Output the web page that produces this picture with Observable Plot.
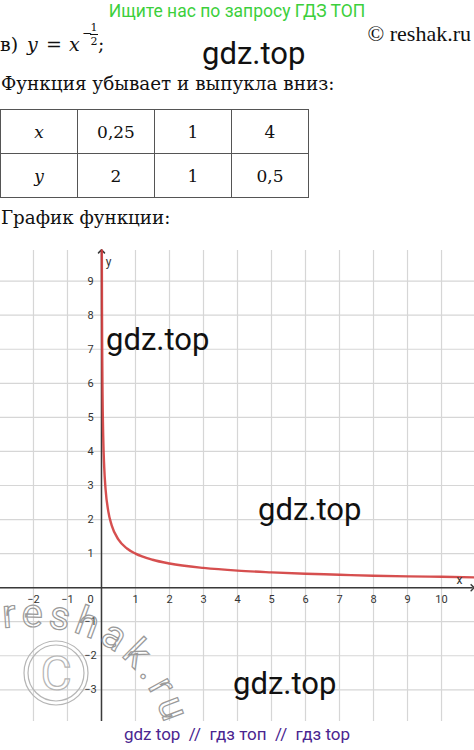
<!DOCTYPE html>
<html><head><meta charset="utf-8">
<script src="https://cdn.jsdelivr.net/npm/d3@7"></script>
<script src="https://cdn.jsdelivr.net/npm/@observablehq/plot@0.6"></script>
<style>
body{margin:0;background:#fff;}
#page{position:relative;width:474px;height:750px;overflow:hidden;background:#fff;}
.abs{position:absolute;white-space:nowrap;}
.serif{font-family:"DejaVu Serif",serif;color:#111;}
.sans{font-family:Roboto,"Noto Sans",sans-serif;}
table{border-collapse:collapse;}
td{border:1px solid #555;width:76px;height:43px;text-align:center;font-family:"DejaVu Serif",serif;font-size:17px;padding:0;color:#111;}
.wm{font-family:Roboto,sans-serif;font-size:31px;color:#111;line-height:31px;}
.m{font-size:19px;line-height:24px;top:32px;}
</style></head>
<body><div id="page">
<div class="abs sans" style="left:0;width:474px;text-align:center;top:1px;font-size:17.5px;color:#3ccf3c;">Ищите нас по запросу ГДЗ ТОП</div>
<div class="abs" style="right:3px;top:21px;font-size:22px;font-family:'Liberation Serif',serif;color:#111;">© reshak.ru</div>
<div class="abs serif m" style="left:0;">в)</div>
<div class="abs serif m" style="left:27px;"><i>y</i></div>
<div class="abs serif m" style="left:46px;">=</div>
<div class="abs serif m" style="left:69px;"><i>x</i></div>
<div class="abs serif" style="left:82px;top:27px;font-size:12px;line-height:12px;">−</div>
<div class="abs serif" style="left:90px;top:22px;font-size:11px;line-height:11px;text-align:center;width:8px;">1</div>
<div class="abs" style="left:90px;top:34px;width:8px;border-top:1px solid #111;"></div>
<div class="abs serif" style="left:90px;top:36px;font-size:11px;line-height:11px;text-align:center;width:8px;">2</div>
<div class="abs serif m" style="left:98px;">;</div>
<div class="abs wm" style="left:202px;top:38px;">gdz.top</div>
<div class="abs serif" style="left:1px;top:72px;font-size:18.4px;line-height:24px;">Функция убывает и выпукла вниз:</div>
<table class="abs" style="left:0;top:109px;">
<tr><td><i>x</i></td><td id="c1"></td><td id="c2"></td><td id="c3"></td></tr>
<tr><td><i>y</i></td><td id="d1"></td><td id="d2"></td><td id="d3"></td></tr>
</table>
<div class="abs serif" style="left:1px;top:206px;font-size:18.3px;line-height:24px;">График функции:</div>
<div id="chart" class="abs" style="left:0;top:250px;"></div>
<div class="abs wm" style="left:106px;top:324px;">gdz.top</div>
<div class="abs wm" style="left:258px;top:494px;">gdz.top</div>
<div class="abs wm" style="left:233px;top:668px;">gdz.top</div>
<svg class="abs" style="left:0;top:580px;" width="220" height="150">
  <path id="arc" d="M 3,48 C 80,40 142,68 166,148" fill="none"/>
  <text font-family="Roboto, sans-serif" font-size="40" letter-spacing="5" fill="none" stroke="#9a9a9a" stroke-width="1.2"><textPath href="#arc">reshak.ru</textPath></text>
  <circle cx="56" cy="93" r="32" fill="none" stroke="#b5b5b5" stroke-width="1.2"/>
  <circle cx="56" cy="93" r="28" fill="none" stroke="#b5b5b5" stroke-width="1.2"/>
  <text x="56" y="110" text-anchor="middle" font-family="Roboto, sans-serif" font-size="48" fill="none" stroke="#b5b5b5" stroke-width="1.2">C</text>
</svg>
<div class="abs sans" style="left:0;width:474px;text-align:center;top:724px;font-size:17px;color:#4a2590;">gdz top &nbsp;// &nbsp;гдз топ &nbsp;// &nbsp;гдз top</div>
</div>
<script>
// table values
const tableX = ["0,25", "1", "4"];
const tableY = ["2", "1", "0,5"];
// grid and tick values
const gridX = [-2, -1, 0, 1, 2, 3, 4, 5, 6, 7, 8, 9, 10];
const gridY = [-3, -2, -1, 0, 1, 2, 3, 4, 5, 6, 7, 8, 9];
const xTicks = [-2, -1, 1, 2, 3, 4, 5, 6, 7, 8, 9, 10];
const yTicks = [-3, -2, -1, 1, 2, 3, 4, 5, 6, 7, 8, 9];
// curve points
const curveX = [0.0102, 0.015, 0.02, 0.03, 0.05, 0.08, 0.12, 0.2, 0.3, 0.5, 0.75, 1, 1.5, 2, 3, 4, 5, 6, 7, 8, 9, 10, 11];
const curveY = [9.9, 8.16, 7.07, 5.77, 4.47, 3.54, 2.89, 2.24, 1.83, 1.41, 1.15, 1, 0.82, 0.71, 0.58, 0.5, 0.45, 0.41, 0.38, 0.35, 0.33, 0.32, 0.3];

tableX.forEach((v, i) => document.getElementById("c" + (i + 1)).textContent = v);
tableY.forEach((v, i) => document.getElementById("d" + (i + 1)).textContent = v);

const curve = curveX.map((x, i) => ({x, y: curveY[i]}));
const fmt = d => (d < 0 ? "\u2212" + Math.abs(d) : String(d));
const xDom = [-2.97, 10.97], yDom = [-3.93, 9.9];

const chart = Plot.plot({
  width: 474, height: 471, margin: 0,
  x: {domain: xDom, axis: null},
  y: {domain: yDom, axis: null},
  style: {background: "transparent", overflow: "visible"},
  marks: [
    Plot.ruleX(gridX, {stroke: "#d6d6d6", strokeWidth: 1.2}),
    Plot.ruleY(gridY, {stroke: "#d6d6d6", strokeWidth: 1.2}),
    Plot.ruleY([0], {x1: xDom[0], x2: 10.93, stroke: "#3a3a3a", strokeWidth: 1.5, markerEnd: "arrow"}),
    Plot.ruleX([0], {y1: yDom[0], y2: 9.86, stroke: "#3a3a3a", strokeWidth: 1.5, markerEnd: "arrow"}),
    Plot.line(curve, {x: "x", y: "y", stroke: "#d23c3c", strokeWidth: 2.4, curve: "monotone-x", strokeOpacity: 0.9}),
    Plot.text(xTicks, {x: d => d, y: 0, text: fmt, dy: 12, fontSize: 11, fill: "#333", fontFamily: "Roboto, sans-serif"}),
    Plot.text(yTicks, {x: 0, y: d => d, text: fmt, dx: -11, fontSize: 11, fill: "#333", fontFamily: "Roboto, sans-serif"}),
    Plot.text([0], {x: 0, y: 0, text: ["0"], dx: -11, dy: 12, fontSize: 11, fill: "#333", fontFamily: "Roboto, sans-serif"}),
    Plot.text([0], {x: 10.53, y: 0, text: ["x"], dy: -8, fontSize: 12, fill: "#333", fontFamily: "Roboto, sans-serif"}),
    Plot.text([0], {x: 0, y: 9.56, text: ["y"], dx: 7, fontSize: 12, fill: "#333", fontFamily: "Roboto, sans-serif"})
  ]
});
document.getElementById("chart").appendChild(chart);
</script>
</body></html>
